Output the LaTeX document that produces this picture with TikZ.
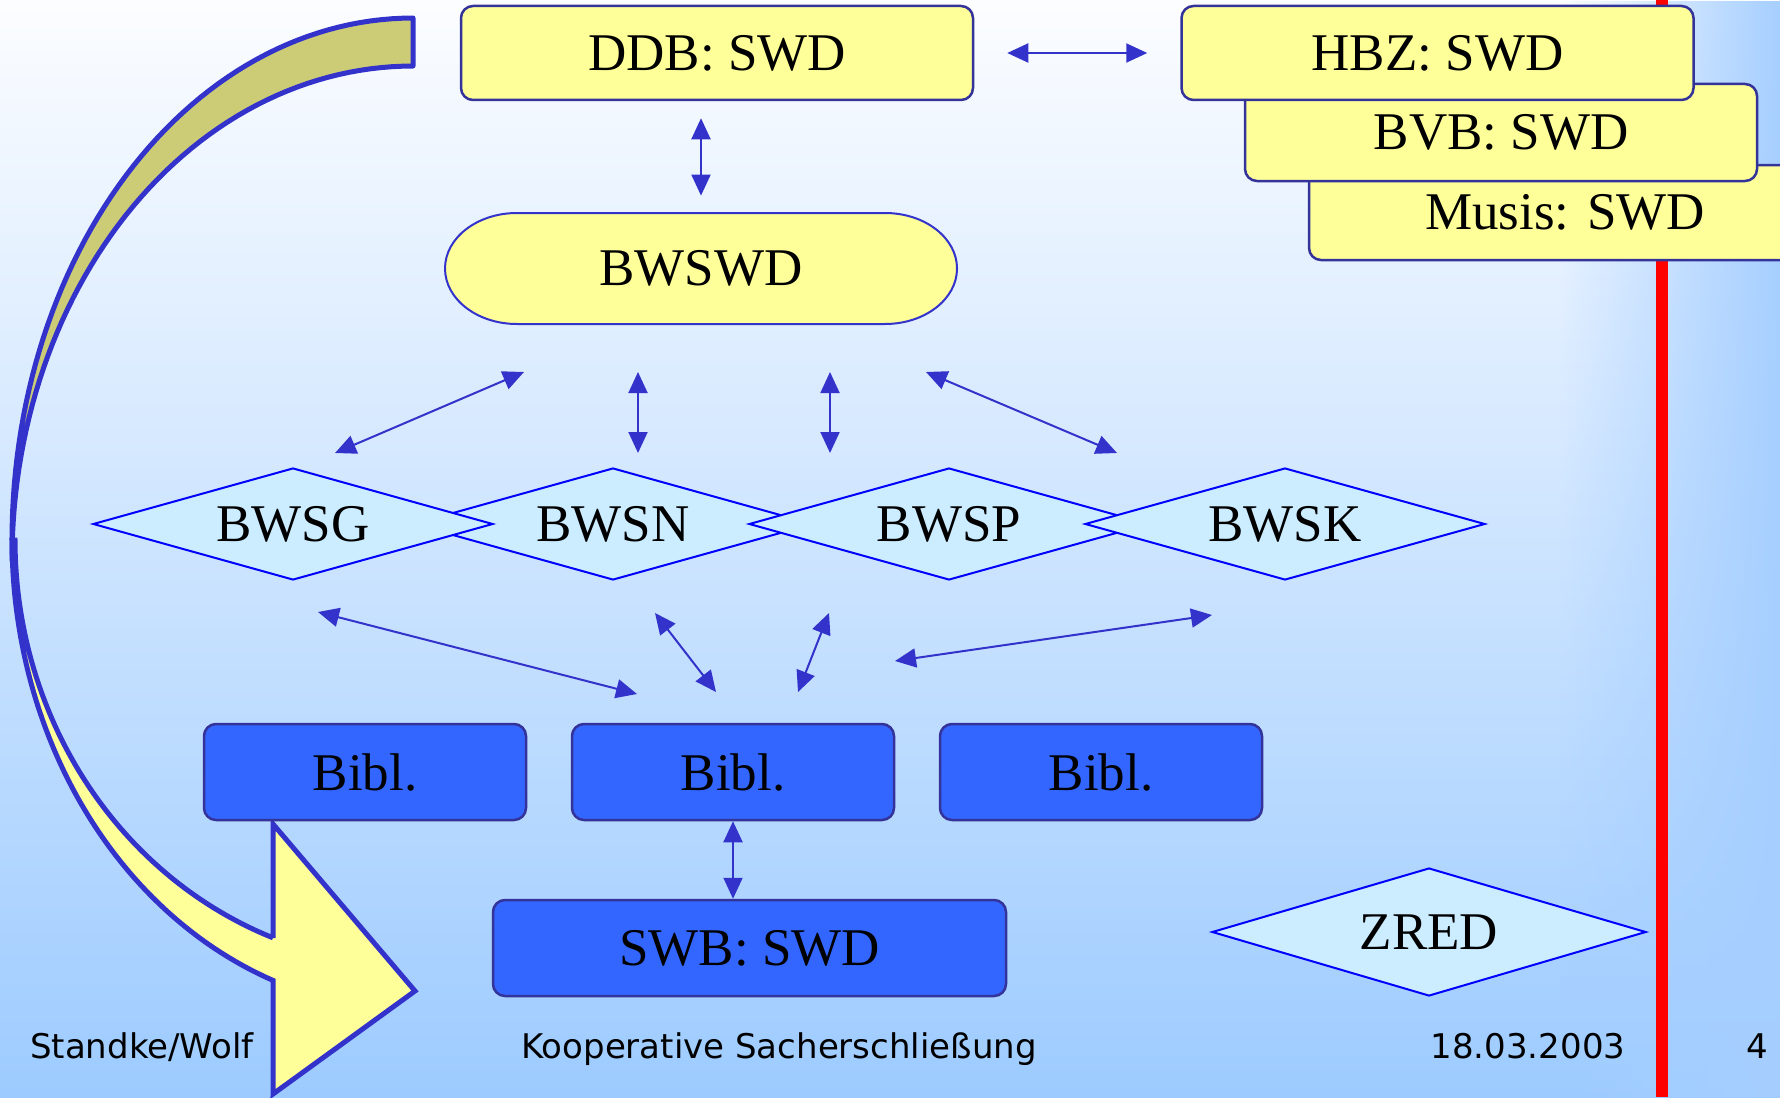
\documentclass[tikz,border=0pt]{standalone}
\usepackage{fontspec}
\setmainfont{Liberation Serif}
\newfontfamily\footfont{DejaVu Sans}
\usetikzlibrary{shapes.geometric,arrows.meta,fadings}
\definecolor{bgtop}{HTML}{FCFDFF}
\definecolor{bgbot}{HTML}{9DCBFF}
\definecolor{bgright}{HTML}{A6CFFF}
\definecolor{boxyellow}{HTML}{FFFF99}
\definecolor{boxedge}{HTML}{333399}
\definecolor{arrowblue}{HTML}{3333CC}
\definecolor{diafill}{HTML}{CCECFF}
\definecolor{diaedge}{HTML}{0000FF}
\definecolor{biblfill}{HTML}{3366FF}
\definecolor{olivefill}{HTML}{CCCC77}
\tikzfading[name=fadeR, left color=transparent!100, right color=transparent!0]
\begin{document}
\begin{tikzpicture}[x=0.5pt,y=-0.5pt,
  every node/.style={font=\fontsize{26.5}{30}\selectfont, inner sep=0pt},
  ybox/.style={draw=boxedge, fill=boxyellow, line width=1.25pt, rounded corners=6pt, minimum width=256pt, minimum height=47pt},
  bbox/.style={draw=boxedge, fill=biblfill, line width=1.25pt, rounded corners=6pt, minimum width=161pt, minimum height=48pt},
  dia/.style={diamond, draw=diaedge, fill=diafill, line width=1pt, minimum width=200pt, minimum height=56pt, aspect=3.5},
  dbl/.style={arrowblue, line width=1pt, {Triangle[length=10.5pt,width=9.5pt]}-{Triangle[length=10.5pt,width=9.5pt]}},
  foot/.style={font=\footfont\fontsize{17}{20}\selectfont, anchor=base},
  bigarrow/.style={draw=arrowblue, line width=2.5pt, line join=round}
]
\useasboundingbox (0,0) rectangle (1780,1097);
% background
\shade[top color=bgtop, bottom color=bgbot] (0,0) rectangle (1780,1097);
\fill[bgright, path fading=fadeR] (1560,0) rectangle (1780,1097);
\fill[red] (1656,0) rectangle (1668,1097);

% big curved arrow: back (olive) part
\filldraw[bigarrow, fill=olivefill]
  plot[domain=90:180, samples=60] ({413+401*cos(\x)}, {540-522*sin(\x)})
  -- plot[domain=180:90, samples=60] ({413+401*cos(\x)}, {560-494*sin(\x)})
  -- cycle;
% front (yellow) part with head
\filldraw[bigarrow, fill=boxyellow, line join=miter]
  plot[domain=180:110.4, samples=60] ({413+401*cos(\x)}, {540+470*sin(\x)})
  -- (273,1094) -- (415,991) -- (273,824) -- (273,938)
  -- plot[domain=110.6:180, samples=60] ({413+398*cos(\x)}, {540+425*sin(\x)})
  -- cycle;

% top boxes
\node[ybox, minimum height=47.5pt] (musis) at (1565,212.5) {Musis: SWD};
\node[ybox, minimum height=48.5pt] (bvb) at (1501,132.5) {BVB: SWD};
\node[ybox] (hbz) at (1437.5,53) {HBZ: SWD};
\node[ybox] (ddb) at (717,53) {DDB: SWD};

% BWSWD stadium
\filldraw[draw=arrowblue, fill=boxyellow, line width=1pt]
  (517,213) -- (885,213) .. controls (924.8,213) and (957,237.85) .. (957,268.5)
  .. controls (957,299.15) and (924.8,324) .. (885,324) -- (517,324)
  .. controls (477.2,324) and (445,299.15) .. (445,268.5)
  .. controls (445,237.85) and (477.2,213) .. (517,213) -- cycle;
\node[minimum width=256pt, minimum height=55.5pt] (bwswd) at (701,268.5) {BWSWD};

% diamonds
\node[dia] (bwsn) at (613,524) {BWSN};
\node[dia] (bwsg) at (293,524) {BWSG};
\node[dia] (bwsp) at (949,524) {BWSP};
\node[dia] (bwsk) at (1285,524) {BWSK};
\node[dia, minimum width=217pt, minimum height=64pt] (zred) at (1429,932) {ZRED};

% library boxes
\node[bbox] (bibl1) at (365,772) {Bibl.};
\node[bbox] (bibl2) at (733,772) {Bibl.};
\node[bbox] (bibl3) at (1101,772) {Bibl.};
\node[bbox, minimum width=256.5pt] (swb) at (749.5,948) {SWB: SWD};

% connectors
\draw[dbl, shorten <=16.5pt, shorten >=16.5pt] (ddb.east) -- (hbz.west);
\draw[dbl, shorten <=8.5pt, shorten >=8.5pt] (bwswd.north |- ddb.south) -- (bwswd.north);
\draw[dbl] (bibl2.south) -- (bibl2.south |- swb.north);

\coordinate (u1a) at (524,372); \coordinate (u1b) at (335,453);
\coordinate (u2a) at (638,372); \coordinate (u2b) at (638,453);
\coordinate (u3a) at (830,372); \coordinate (u3b) at (830,453);
\coordinate (u4a) at (926,372); \coordinate (u4b) at (1117,453);
\coordinate (l1a) at (318,612); \coordinate (l1b) at (637,694);
\coordinate (l2a) at (655,613); \coordinate (l2b) at (716,692);
\coordinate (l3a) at (829,613); \coordinate (l3b) at (798,692);
\coordinate (l4a) at (1212,615); \coordinate (l4b) at (895,661);
\draw[dbl] (u1a) -- (u1b);
\draw[dbl] (u2a) -- (u2b);
\draw[dbl] (u3a) -- (u3b);
\draw[dbl] (u4a) -- (u4b);
\draw[dbl] (l1a) -- (l1b);
\draw[dbl] (l2a) -- (l2b);
\draw[dbl] (l3a) -- (l3b);
\draw[dbl] (l4a) -- (l4b);

% footer
\node[foot] (f1) at (142,1058) {Standke/Wolf};
\node[foot] (f2) at (779,1058) {Kooperative Sacherschließung};
\node[foot] (f3) at (1528,1058) {18.03.2003};
\node[foot] (f4) at (1757,1058) {4};
\end{tikzpicture}
\end{document}
